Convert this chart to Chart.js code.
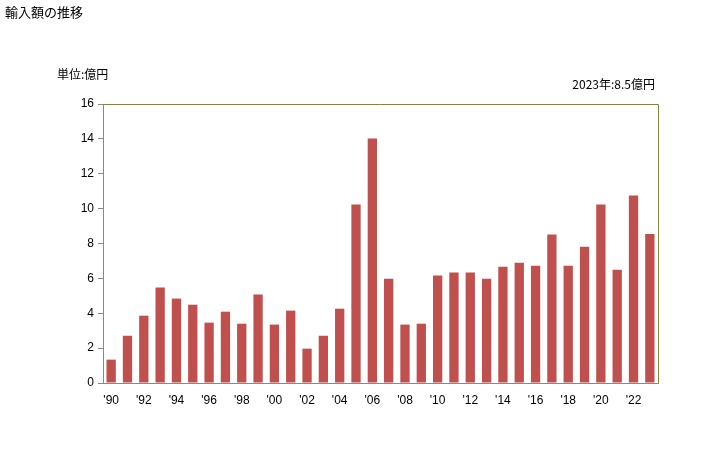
<!DOCTYPE html>
<html>
<head>
<meta charset="utf-8">
<script src="https://cdn.jsdelivr.net/npm/chart.js@4/dist/chart.umd.min.js"></script>
<style>
html,body{margin:0;padding:0;background:#fff;}
#wrap{width:728px;height:450px;position:relative;}
</style>
</head>
<body>
<div id="wrap"><canvas id="chart" width="728" height="450"></canvas></div>
<script>
const years=[1990,1991,1992,1993,1994,1995,1996,1997,1998,1999,2000,2001,2002,2003,2004,2005,2006,2007,2008,2009,2010,2011,2012,2013,2014,2015,2016,2017,2018,2019,2020,2021,2022,2023];
const values=[1.34,2.71,3.86,5.47,4.84,4.49,3.46,4.09,3.40,5.07,3.35,4.15,1.97,2.71,4.26,10.23,14.02,5.98,3.35,3.40,6.16,6.33,6.33,5.98,6.67,6.90,6.73,8.51,6.73,7.82,10.23,6.50,10.75,8.55];
const yTicks=[0,2,4,6,8,10,12,14,16];
const titleText='輸入額の推移';
const unitText='単位:億円';
const noteText='2023年:8.5億円';

const jpFont='"Noto Sans CJK JP", sans-serif';
const tickFont={family:'"Liberation Sans", Arial, sans-serif',size:12};

const textPlugin={
  id:'texts',
  afterDraw(chart){
    const c=chart.ctx;
    const a=chart.chartArea;
    c.save();
    c.fillStyle='#000';
    c.textBaseline='middle';
    c.font='13px '+jpFont;
    c.textAlign='left';
    c.fillText(titleText,5,12);
    c.font='12px '+jpFont;
    c.fillText(unitText,57,74);
    c.textAlign='right';
    c.fillText(noteText,a.right-3,84);
    // frame top and right
    c.strokeStyle='#8c8248';
    c.lineWidth=1;
    c.beginPath();
    c.moveTo(a.left,a.top+0.5);
    c.lineTo(a.right+0.5,a.top+0.5);
    c.lineTo(a.right+0.5,a.bottom);
    c.stroke();
    c.restore();
  }
};

const ctx=document.getElementById('chart').getContext('2d');
new Chart(ctx,{
  type:'bar',
  data:{
    labels:years,
    datasets:[{
      data:values,
      backgroundColor:'#c0504d',
      borderWidth:0,
      barPercentage:0.57,
      categoryPercentage:1
    }]
  },
  options:{
    responsive:false,
    animation:false,
    layout:{padding:{left:0,right:70,top:104,bottom:37}},
    plugins:{legend:{display:false},tooltip:{enabled:false}},
    scales:{
      x:{
        grid:{display:false},
        border:{display:true,color:'#888'},
        ticks:{
          autoSkip:false,maxRotation:0,minRotation:0,padding:2,
          color:'#000',font:tickFont,
          callback:function(v,i){return i%2===0?"'"+String(years[i]).slice(2):'';}
        },
        afterFit(s){s.height=30;}
      },
      y:{
        min:0,max:16,
        afterBuildTicks(s){s.ticks=yTicks.map(v=>({value:v}));},
        grid:{drawOnChartArea:false,tickLength:5,color:'#888'},
        border:{display:true,color:'#888'},
        ticks:{padding:4,color:'#000',font:tickFont},
        afterFit(s){s.width=103;}
      }
    }
  },
  plugins:[textPlugin]
});
</script>
</body>
</html>
